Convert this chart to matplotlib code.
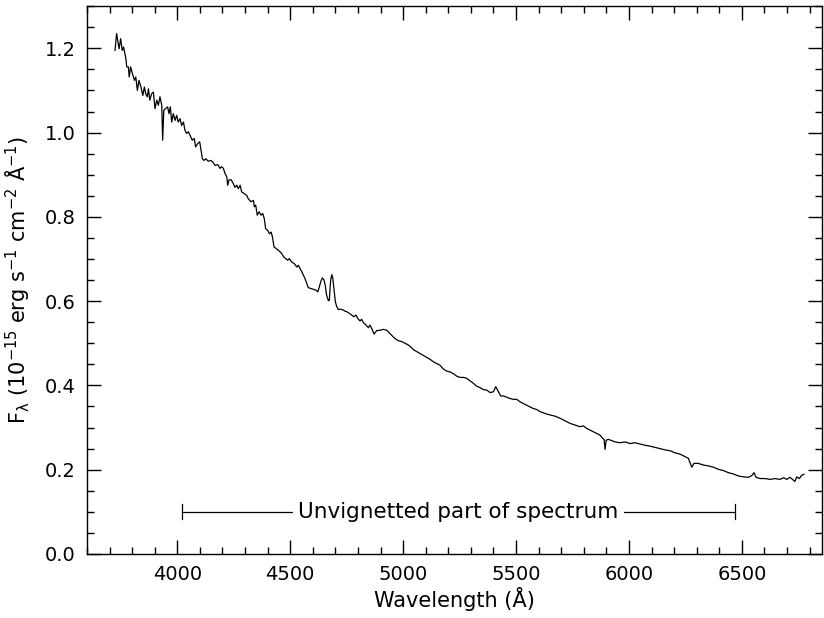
import numpy as np
import matplotlib
matplotlib.use("Agg")
import matplotlib.pyplot as plt
from matplotlib.ticker import MultipleLocator

# Flux-calibrated spectrum, wavelength in Angstrom, flux in 1e-15 erg/s/cm^2/A
wavelength = [
    3724, 3731, 3742, 3749, 3756, 3762, 3771, 3776, 3783, 3787, 3793, 3801, 3810, 3816,
    3823, 3830, 3839, 3847, 3854, 3860, 3867, 3872, 3878, 3886, 3894, 3901, 3909, 3916,
    3923, 3931, 3935, 3940, 3948, 3957, 3963, 3969, 3975, 3982, 3990, 3997, 4004, 4012,
    4019, 4027, 4034, 4041, 4049, 4056, 4066, 4075, 4081, 4090, 4099, 4105, 4111, 4118,
    4126, 4137, 4149, 4159, 4167, 4179, 4189, 4196, 4204, 4211, 4219, 4223, 4229, 4238,
    4248, 4255, 4263, 4270, 4278, 4285, 4297, 4307, 4314, 4326, 4337, 4341, 4347, 4354,
    4362, 4371, 4378, 4385, 4391, 4400, 4408, 4415, 4421, 4428, 4437, 4447, 4455, 4462,
    4471, 4480, 4489, 4496, 4506, 4518, 4529, 4536, 4548, 4558, 4565, 4573, 4580, 4591,
    4602, 4614, 4622, 4629, 4635, 4642, 4650, 4656, 4661, 4669, 4673, 4679, 4684, 4688,
    4694, 4700, 4706, 4713, 4723, 4735, 4743, 4750, 4762, 4772, 4782, 4791, 4799, 4809,
    4816, 4824, 4836, 4846, 4853, 4861, 4871, 4883, 4898, 4912, 4927, 4935, 4949, 4964,
    4979, 4994, 5008, 5023, 5038, 5045, 5119, 5134, 5149, 5163, 5178, 5193, 5208, 5222,
    5237, 5252, 5267, 5281, 5296, 5311, 5326, 5340, 5355, 5370, 5385, 5400, 5410, 5422,
    5432, 5444, 5459, 5473, 5488, 5503, 5518, 5532, 5547, 5562, 5577, 5591, 5606, 5621,
    5636, 5651, 5673, 5695, 5717, 5739, 5761, 5783, 5798, 5813, 5828, 5842, 5857, 5872,
    5884, 5890, 5894, 5899, 5909, 5924, 5938, 5961, 5983, 6005, 6027, 6049, 6071, 6093,
    6115, 6138, 6160, 6182, 6204, 6226, 6248, 6263, 6278, 6288, 6307, 6330, 6352, 6374,
    6396, 6418, 6440, 6462, 6485, 6507, 6529, 6544, 6554, 6563, 6580, 6603, 6625, 6647,
    6669, 6684, 6699, 6713, 6728, 6735, 6743, 6755, 6765, 6775,
]
flux = [
    1.195, 1.235, 1.199, 1.223, 1.195, 1.203, 1.179, 1.156, 1.156, 1.132, 1.156, 1.140, 1.124, 1.132,
    1.100, 1.124, 1.108, 1.088, 1.108, 1.092, 1.085, 1.104, 1.077, 1.092, 1.096, 1.057, 1.077, 1.065,
    1.085, 1.065, 0.982, 1.053, 1.057, 1.061, 1.045, 1.061, 1.025, 1.045, 1.029, 1.041, 1.025, 1.033,
    1.017, 1.025, 1.005, 0.998, 1.002, 0.994, 0.982, 0.986, 0.966, 0.974, 0.978, 0.958, 0.938, 0.934,
    0.938, 0.932, 0.934, 0.929, 0.922, 0.924, 0.915, 0.919, 0.915, 0.903, 0.895, 0.875, 0.888, 0.888,
    0.879, 0.870, 0.875, 0.867, 0.875, 0.859, 0.855, 0.851, 0.843, 0.836, 0.839, 0.824, 0.828, 0.804,
    0.812, 0.804, 0.808, 0.796, 0.772, 0.768, 0.760, 0.764, 0.753, 0.729, 0.725, 0.721, 0.717, 0.713,
    0.705, 0.701, 0.697, 0.701, 0.693, 0.689, 0.681, 0.685, 0.673, 0.662, 0.654, 0.642, 0.632, 0.630,
    0.628, 0.626, 0.622, 0.634, 0.646, 0.655, 0.650, 0.634, 0.614, 0.601, 0.602, 0.650, 0.663, 0.656,
    0.626, 0.598, 0.587, 0.580, 0.581, 0.579, 0.576, 0.575, 0.571, 0.567, 0.563, 0.567, 0.559, 0.553,
    0.557, 0.549, 0.543, 0.537, 0.543, 0.535, 0.522, 0.530, 0.531, 0.533, 0.531, 0.527, 0.519, 0.511,
    0.506, 0.504, 0.500, 0.496, 0.489, 0.485, 0.462, 0.456, 0.452, 0.448, 0.439, 0.434, 0.432, 0.428,
    0.422, 0.419, 0.419, 0.417, 0.411, 0.405, 0.398, 0.395, 0.390, 0.389, 0.383, 0.385, 0.397, 0.385,
    0.375, 0.375, 0.372, 0.369, 0.367, 0.367, 0.361, 0.357, 0.353, 0.349, 0.345, 0.343, 0.338, 0.335,
    0.332, 0.330, 0.327, 0.322, 0.316, 0.310, 0.306, 0.302, 0.304, 0.298, 0.294, 0.290, 0.286, 0.282,
    0.274, 0.272, 0.248, 0.270, 0.272, 0.269, 0.266, 0.264, 0.266, 0.262, 0.264, 0.261, 0.258, 0.256,
    0.253, 0.250, 0.247, 0.245, 0.240, 0.237, 0.231, 0.227, 0.206, 0.215, 0.215, 0.211, 0.209, 0.206,
    0.201, 0.198, 0.193, 0.190, 0.185, 0.183, 0.182, 0.186, 0.193, 0.182, 0.179, 0.179, 0.177, 0.179,
    0.177, 0.181, 0.177, 0.182, 0.175, 0.172, 0.183, 0.179, 0.187, 0.189,
]

# Unvignetted wavelength range marked under the spectrum
unvig_start = 4020
unvig_end = 6470
unvig_level = 0.10
unvig_label = "Unvignetted part of spectrum"

plt.rcParams["font.family"] = ["DejaVu Sans"]
plt.rcParams["mathtext.default"] = "regular"

fig = plt.figure(figsize=(8.24, 6.18), dpi=100)
ax = fig.add_axes([0.1056, 0.1036, 0.892, 0.8864])

ax.plot(wavelength, flux, color="black", linewidth=0.9)

# bracket with the label sitting in a gap in the middle
ax.plot([unvig_start, unvig_end], [unvig_level, unvig_level], color="black", linewidth=0.9)
for x in (unvig_start, unvig_end):
    ax.plot([x, x], [unvig_level - 0.018, unvig_level + 0.018], color="black", linewidth=0.9)
ax.text((unvig_start + unvig_end) / 2, unvig_level, unvig_label, ha="center", va="center",
        fontsize=15.5, bbox=dict(facecolor="white", edgecolor="none", pad=4))

ax.set_xlim(3600, 6855)
ax.set_ylim(0.0, 1.3)
ax.xaxis.set_major_locator(MultipleLocator(500))
ax.xaxis.set_minor_locator(MultipleLocator(100))
ax.yaxis.set_major_locator(MultipleLocator(0.2))
ax.yaxis.set_minor_locator(MultipleLocator(0.05))
ax.yaxis.set_major_formatter(matplotlib.ticker.FormatStrFormatter("%.1f"))

ax.tick_params(which="both", direction="in", top=True, right=True, width=1, labelsize=14)
ax.tick_params(which="major", length=10, pad=8)
ax.tick_params(which="minor", length=5)
for s in ax.spines.values():
    s.set_linewidth(1)

ax.set_xlabel("Wavelength (Å)", fontsize=15, labelpad=2)
ax.set_ylabel(r"F$_\lambda$ (10$^{-15}$ erg s$^{-1}$ cm$^{-2}$ Å$^{-1}$)", fontsize=15, labelpad=9)

fig.savefig("out.png", dpi=100)
